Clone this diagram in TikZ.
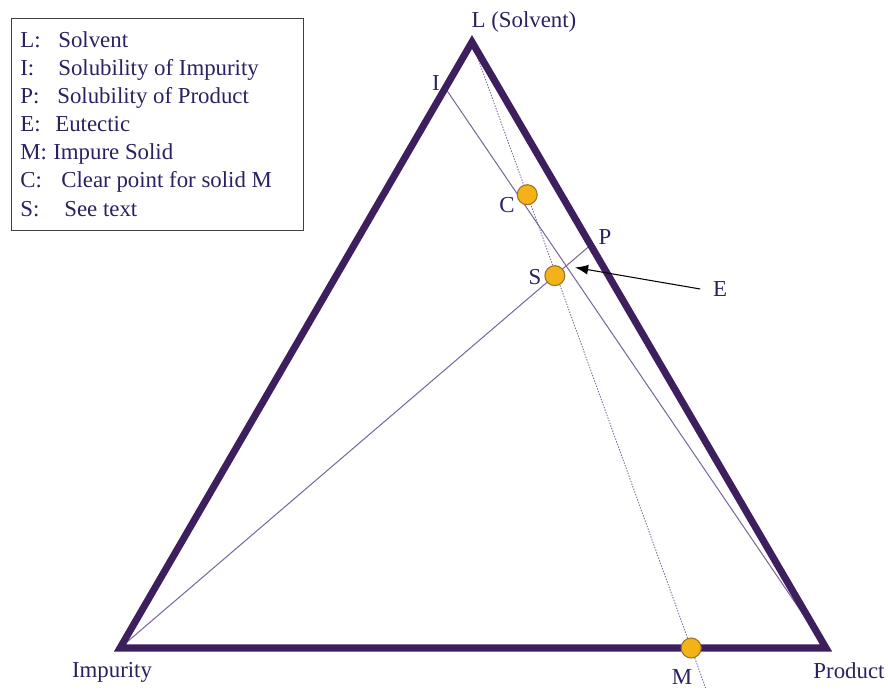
\documentclass[tikz,border=0pt]{standalone}
\usepackage{fontspec}
\setmainfont{Liberation Serif}
\usepackage{tikz}
\usetikzlibrary{arrows.meta,calc}
\definecolor{triviolet}{HTML}{3E1F5E}
\definecolor{thinviolet}{HTML}{7B6A9C}
\definecolor{txtnavy}{HTML}{2B2160}
\definecolor{dotorange}{HTML}{F4B219}
\definecolor{dotedge}{HTML}{9A7424}

\begin{document}
\begin{tikzpicture}[x=0.02cm, y=-0.02cm,
    tri/.style={line width=4pt, color=triviolet, line join=miter},
    thin/.style={line width=0.6pt, color=thinviolet},
    dots/.style={line width=0.5pt, color=thinviolet, dash pattern=on 0.8pt off 0.8pt},
    marker/.style={circle, draw=dotedge, fill=dotorange, line width=0.6pt,
                   minimum size=0.4cm, inner sep=0pt},
    lbl/.style={font=\fontsize{13}{16}\selectfont, text=txtnavy, inner sep=0pt},
    arrow/.style={-{Latex[length=2.6mm,width=2mm]}, line width=0.6pt, color=black}
]
\useasboundingbox (0,0) rectangle (888,689);

% --- corners ---
\coordinate (L)    at (472,42);
\coordinate (Imp)  at (120,648);
\coordinate (Prod) at (826,648);

% --- points on the edges ---
\coordinate (I)    at ($(L)!0.076!(Imp)$);
\coordinate (P)    at ($(L)!0.335!(Prod)$);
\coordinate (M)    at ($(Imp)!0.809!(Prod)$);
\coordinate (Mend) at ($(L)!1.066!(M)$);
\coordinate (S)    at ($(Imp)!0.924!(P)$);
\coordinate (C)    at ($(L)!0.252!(M)$);
\coordinate (Eu)   at (intersection of I--Prod and Imp--P);

% --- thin lines ---
\draw[thin] (I) -- (Prod);
\draw[thin] (Imp) -- (P);
\draw[dots] (L) -- (Mend);

% --- triangle ---
\draw[tri] (L) -- (Imp) -- (Prod) -- cycle;

% --- points ---
\node[marker] (cpt) at (C) {};
\node[marker] (spt) at (S) {};
\node[marker] (mpt) at (M) {};

% --- labels ---
\node[lbl] (lL)    at (524,22)  {L (Solvent)};
\node[lbl] (lImp)  at (112,672) {Impurity};
\node[lbl] (lProd) at (849,671) {Product};
\node[lbl] (lI)    at (436,83)  {I};
\node[lbl] (lC)    at (507,205) {C};
\node[lbl] (lP)    at (605,237) {P};
\node[lbl] (lS)    at (535,277) {S};
\node[lbl] (lE)    at (720,289) {E};
\node[lbl] (lM)    at (682,677) {M};

\draw[arrow, shorten >=0.18cm] ([xshift=-0.25cm]lE.west) -- (Eu);

% --- legend ---
\node[draw, line width=0.8pt, color=black!75, minimum width=5.84cm,
      minimum height=4.24cm, anchor=north west, inner sep=0pt] (key) at (11,18) {};
\foreach \k/\t/\x [count=\n] in {L:/Solvent/58, I:/Solubility of Impurity/58,
    P:/Solubility of Product/57, E:/Eutectic/55, M:/Impure Solid/53,
    C:/Clear point for solid M/61, S:/See text/64}
{
  \node[lbl, anchor=base west] (k\n) at (20,{48+28*(\n-1)}) {\k};
  \node[lbl, anchor=base west] (t\n) at (\x,{48+28*(\n-1)}) {\t};
}
\end{tikzpicture}
\end{document}
